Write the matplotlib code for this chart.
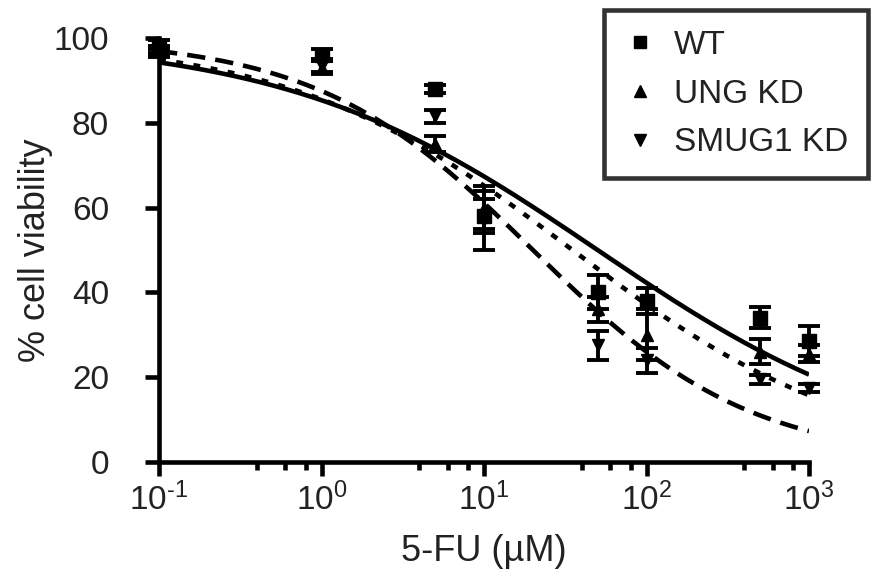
import numpy as np
import matplotlib
matplotlib.use('Agg')
import matplotlib.pyplot as plt
from matplotlib.lines import Line2D
from matplotlib.ticker import FixedLocator, FuncFormatter

plt.rcParams['font.family'] = ['Liberation Sans', 'DejaVu Sans']
plt.rcParams['mathtext.fontset'] = 'custom'
plt.rcParams['mathtext.rm'] = 'Liberation Sans'
plt.rcParams['mathtext.default'] = 'regular'
plt.rcParams['axes.unicode_minus'] = False

# concentracoes de 5-FU (uM)
conc = [0.1, 1, 5, 10, 50, 100, 500, 1000]

wt = [98, 96, 88, 58, 40, 38, 34, 28.5]
wt_sem = [1.5, 1.5, 1, 4, 4, 3, 2.5, 3.5]
ung = [97, 93, 75, 60, 36, 30, 26, 25.5]
ung_sem = [1, 1.5, 2, 5, 3, 6, 3, 2]
smug = [96.5, 93.5, 81.5, 57, 27.5, 24, 19.5, 17.5]
smug_sem = [1, 1.5, 1.5, 7, 3.5, 3, 1, 1]

# parametros do ajuste (top, bottom, EC50, hill)
fit_wt = (100, 0, 50, 0.45)
fit_ung = (100, 0, 35, 0.5)
fit_smug = (100, 0, 20, 0.65)


def curva(x, top, bottom, ec50, hill):
    return bottom + (top - bottom) / (1 + (x / ec50) ** hill)


def fmt_pot(v, _):
    e = int(round(np.log10(v)))
    return r'$10^{\text{%d}}$' % e


fig = plt.figure(figsize=(8.74, 5.77), dpi=100)
ax = fig.add_axes([159/874, 1 - 462/577, (809-159)/874, (462-38)/577])

xs = np.logspace(-1, 3, 300)
ax.plot(xs, curva(xs, *fit_wt), color='black', lw=3.3, ls='-', solid_capstyle='butt')
ax.plot(xs, curva(xs, *fit_ung), color='black', lw=3.3, ls=(0, (1.5, 2.3)))
ax.plot(xs, curva(xs, *fit_smug), color='black', lw=3.3, ls=(0, (4, 2.2)))

series = [(wt, wt_sem, 's', 10), (ung, ung_sem, '^', 9), (smug, smug_sem, 'v', 9)]
for vals, sem, mk, ms in series:
    ax.errorbar(conc, vals, yerr=sem, fmt=mk, color='black', ms=ms,
                elinewidth=2.8, capsize=8, capthick=2.8, clip_on=False, zorder=3)

ax.set_xscale('log')
ax.set_xlim(0.1, 1000)
ax.set_ylim(0, 100)
ax.set_yticks([0, 20, 40, 60, 80, 100])
ax.xaxis.set_major_locator(FixedLocator([0.1, 1, 10, 100, 1000]))
ax.xaxis.set_major_formatter(FuncFormatter(fmt_pot))
minors = [d * m for d in [0.1, 1, 10, 100] for m in [4, 6, 8]]
ax.xaxis.set_minor_locator(FixedLocator(minors))
ax.xaxis.set_minor_formatter(plt.NullFormatter())

for s in ['top', 'right']:
    ax.spines[s].set_visible(False)
for s in ['left', 'bottom']:
    ax.spines[s].set_linewidth(3.3)

ax.tick_params(which='major', length=10, width=3.3, labelsize=24, colors='black',
               labelcolor='#222222')
ax.tick_params(axis='y', pad=26)
ax.tick_params(axis='x', pad=5)
ax.tick_params(which='minor', length=6, width=3.3)

ax.set_ylabel('% cell viability', fontsize=26, color='#222222', labelpad=0)
ax.set_xlabel('5-FU (µM)', fontsize=26, color='#222222', labelpad=12)

handles = [Line2D([], [], ls='none', marker='s', color='black', ms=9),
           Line2D([], [], ls='none', marker='^', color='black', ms=8),
           Line2D([], [], ls='none', marker='v', color='black', ms=8)]
leg = fig.legend(handles, ['WT', 'UNG KD', 'SMUG1 KD'], loc='upper right',
                 bbox_to_anchor=(868/874, 1 - 10/577), borderaxespad=0,
                 fontsize=24, frameon=True, fancybox=False, edgecolor='black',
                 handlelength=1.0, handletextpad=0.5, borderpad=0.6,
                 labelspacing=0.53)
leg.get_frame().set_linewidth(3.3)
for t in leg.get_texts():
    t.set_color('#222222')

fig.savefig('out.png', dpi=100)
